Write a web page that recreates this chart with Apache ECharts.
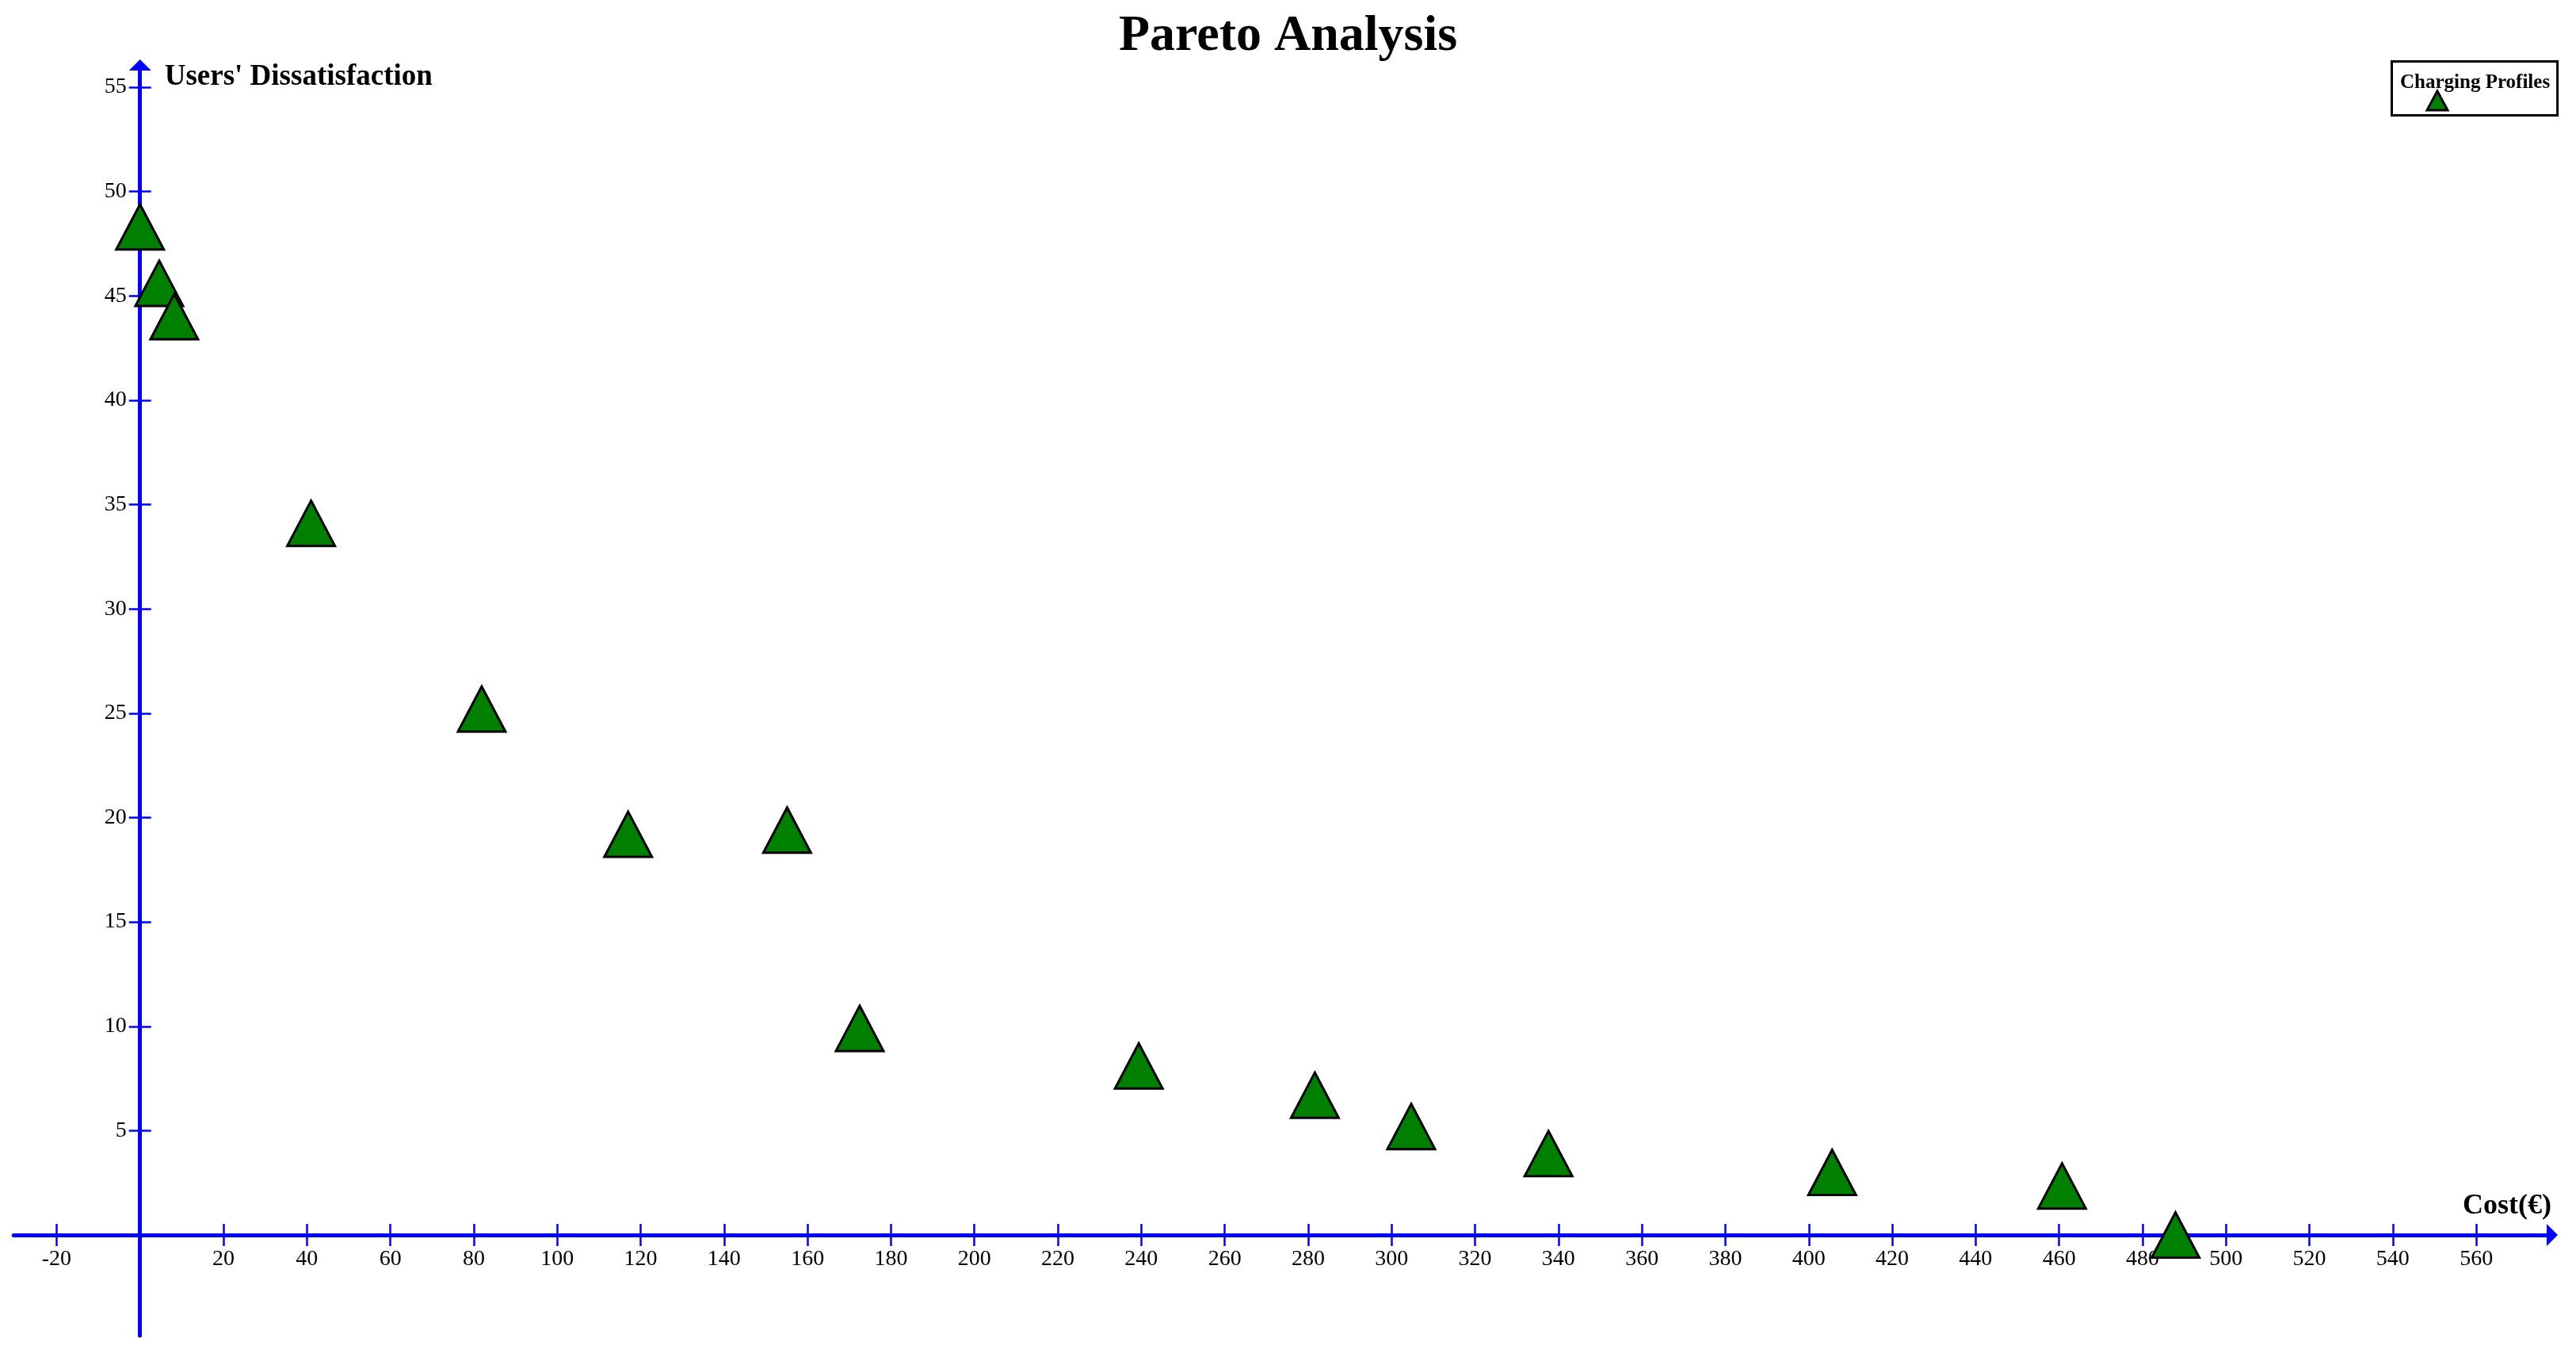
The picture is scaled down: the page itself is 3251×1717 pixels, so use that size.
<!DOCTYPE html>
<html>
<head>
<meta charset="utf-8">
<script src="https://cdn.jsdelivr.net/npm/echarts@6/dist/echarts.min.js"></script>
<style>
  html, body { margin: 0; padding: 0; background: #ffffff; }
  #chart { width: 3251px; height: 1717px; }
</style>
</head>
<body>
<div id="chart"></div>
<script>
// ---- data ----
const seriesName = 'Charging Profiles';
const costs = [0, 4.6, 8.2, 41.0, 81.9, 117.0, 155.1, 172.5, 239.4, 281.6, 304.7, 337.6, 405.6, 460.7, 487.9];
const dissatisfaction = [48.3, 45.6, 44.0, 34.1, 25.2, 19.2, 19.4, 9.9, 8.1, 6.7, 5.2, 3.9, 3.0, 2.35, 0];
const xTicks = [-20, 20, 40, 60, 80, 100, 120, 140, 160, 180, 200, 220, 240, 260, 280, 300, 320, 340, 360, 380, 400, 420, 440, 460, 480, 500, 520, 540, 560];
const yTicks = [5, 10, 15, 20, 25, 30, 35, 40, 45, 50, 55];

const points = costs.map((c, i) => [c, dissatisfaction[i]]);

const BLUE = '#0000ff';
const X_MIN = -30.3, X_MAX = 578.2, Y_MIN = -4.82, Y_MAX = 56.06;
const W = 3251, H = 1717;
const GRID = { left: 17.2, right: 30, top: 82, bottom: 32 };
const plotW = W - GRID.left - GRID.right;
const plotH = H - GRID.top - GRID.bottom;
// offsets that put each axis on the other axis's zero
const bottomOffset = -((0 - Y_MIN) / (Y_MAX - Y_MIN)) * plotH;
const topOffset = -((Y_MAX - 0) / (Y_MAX - Y_MIN)) * plotH;
const leftOffset = -((0 - X_MIN) / (X_MAX - X_MIN)) * plotW;
const rightOffset = -((X_MAX - 0) / (X_MAX - X_MIN)) * plotW;

const labelFont = 'Liberation Sans Narrow';
const serif = 'Liberation Serif';

const chart = echarts.init(document.getElementById('chart'), null, { renderer: 'canvas' });

const tickStyle = { color: BLUE, width: 2.5 };

chart.setOption({
  animation: false,
  backgroundColor: '#ffffff',
  title: {
    text: 'Pareto Analysis',
    left: 'center',
    top: 14,
    padding: 0,
    textStyle: { fontFamily: serif, fontWeight: 'bold', fontSize: 64, color: '#000' }
  },
  legend: {
    data: [seriesName],
    left: 3018.5,
    top: 77.5,
    padding: [-9, 9.5, 5, 10.5],
    borderColor: '#000',
    borderWidth: 3,
    itemWidth: 28,
    itemHeight: 69,
    icon: 'path://M0,0 M14,45 L27,69 L1,69 Z M28,69',
    itemStyle: { color: '#008000', borderColor: '#000', borderWidth: 3 },
    textStyle: {
      fontFamily: serif, fontWeight: 'bold', fontSize: 25, color: '#000',
      padding: [0, 0, 0, -66]
    }
  },
  grid: {
    left: GRID.left, right: GRID.right, top: GRID.top, bottom: GRID.bottom,
    containLabel: false,
    outerBoundsMode: 'none'
  },
  xAxis: [{
    type: 'value',
    min: X_MIN, max: X_MAX,
    position: 'bottom',
    offset: bottomOffset,
    name: 'Cost(€)',
    nameLocation: 'end',
    nameGap: 0,
    nameMoveOverlap: false,
    nameTextStyle: {
      fontFamily: serif, fontWeight: 'bold', fontSize: 36, color: '#000',
      align: 'right', verticalAlign: 'bottom', padding: [0, 1, 18, 0]
    },
    axisLine: {
      show: true, onZero: false,
      symbol: ['none', 'triangle'], symbolSize: [28, 14],
      lineStyle: { color: BLUE, width: 5 }
    },
    axisTick: { show: true, inside: false, length: 14, customValues: xTicks, lineStyle: tickStyle },
    axisLabel: { show: true, customValues: xTicks, margin: 17, fontFamily: labelFont, fontSize: 28, color: '#000' },
    splitLine: { show: false }
  }, {
    type: 'value',
    min: X_MIN, max: X_MAX,
    position: 'top',
    offset: topOffset,
    axisLine: { show: false, onZero: false },
    axisTick: { show: true, inside: false, length: 14, customValues: xTicks, lineStyle: tickStyle },
    axisLabel: { show: false },
    splitLine: { show: false }
  }],
  yAxis: [{
    type: 'value',
    min: Y_MIN, max: Y_MAX,
    position: 'left',
    offset: leftOffset,
    name: "Users' Dissatisfaction",
    nameLocation: 'end',
    nameGap: -15,
    nameMoveOverlap: false,
    nameTextStyle: {
      fontFamily: serif, fontWeight: 'bold', fontSize: 37, color: '#000',
      align: 'left', verticalAlign: 'middle', padding: [0, 0, 0, 31]
    },
    axisLine: {
      show: true, onZero: false,
      symbol: ['none', 'triangle'], symbolSize: [28, 14],
      lineStyle: { color: BLUE, width: 5 }
    },
    axisTick: { show: true, inside: false, length: 14, customValues: yTicks, lineStyle: tickStyle },
    axisLabel: { show: true, customValues: yTicks, margin: 17, fontFamily: labelFont, fontSize: 28, color: '#000' },
    splitLine: { show: false }
  }, {
    type: 'value',
    min: Y_MIN, max: Y_MAX,
    position: 'right',
    offset: rightOffset,
    axisLine: { show: false, onZero: false },
    axisTick: { show: true, inside: false, length: 14, customValues: yTicks, lineStyle: tickStyle },
    axisLabel: { show: false },
    splitLine: { show: false }
  }],
  series: [{
    name: seriesName,
    type: 'scatter',
    xAxisIndex: 0,
    yAxisIndex: 0,
    data: points,
    symbol: 'triangle',
    symbolSize: [60, 57],
    itemStyle: { color: '#008000', borderColor: '#000', borderWidth: 3, opacity: 1 },
    emphasis: { disabled: true },
    z: 5
  }]
});
</script>
</body>
</html>
